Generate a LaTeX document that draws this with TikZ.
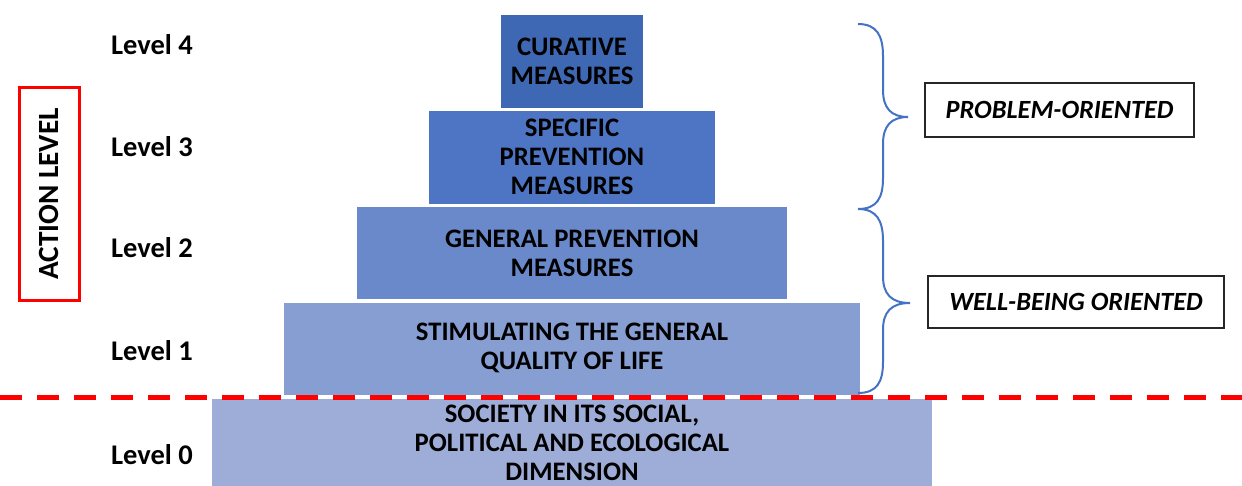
\documentclass[tikz,border=0pt]{standalone}
\usepackage{fontspec}
\setmainfont{Carlito}
\begin{document}
\begin{tikzpicture}[x=1pt,y=-1pt,
  lvl/.style={font=\bfseries\fontsize{26.7}{29}\selectfont, text=black, align=center, inner sep=0pt, anchor=center},
  levellbl/.style={font=\bfseries\fontsize{28.5}{30}\selectfont, anchor=center},
  tagbox/.style={draw=black!85, line width=1.5pt, font=\bfseries\itshape\fontsize{26.3}{30}\selectfont, inner sep=0pt}
]
\definecolor{c4}{RGB}{62,104,179}
\definecolor{c3}{RGB}{78,117,195}
\definecolor{c2}{RGB}{106,137,202}
\definecolor{c1}{RGB}{135,158,211}
\definecolor{c0}{RGB}{158,173,216}
\definecolor{bracec}{RGB}{68,114,196}
\definecolor{redl}{RGB}{255,0,0}
\useasboundingbox (0,0) rectangle (1242,486);
\fill[white] (0,0) rectangle (1242,486);

% pyramid boxes
\fill[c4] (501,15) rectangle (643,108);
\fill[c3] (429,111) rectangle (715,204);
\fill[c2] (357,207) rectangle (787,299);
\fill[c1] (284,303) rectangle (860,395);
\fill[c0] (212,399) rectangle (932,486);

\node[lvl] (cur) at (572,61.5) {CURATIVE\\MEASURES};
\node[lvl] (spe) at (572,157) {SPECIFIC\\PREVENTION\\MEASURES};
\node[lvl] (gen) at (572,253) {GENERAL PREVENTION\\MEASURES};
\node[lvl] (sti) at (572,348) {STIMULATING THE GENERAL\\QUALITY OF LIFE};
\node[lvl] (soc) at (572,443) {SOCIETY IN ITS SOCIAL,\\POLITICAL AND ECOLOGICAL\\DIMENSION};

% red dashed line
\draw[redl, line width=5pt, dash pattern=on 22pt off 15pt] (0,397) -- (1242,397);

% level labels
\node[levellbl] (l4) at (152,45) {Level 4};
\node[levellbl] (l3) at (152,147) {Level 3};
\node[levellbl] (l2) at (152,248) {Level 2};
\node[levellbl] (l1) at (152,351) {Level 1};
\node[levellbl] (l0) at (152,455) {Level 0};

% action level box
\draw[redl, line width=3.5pt] (19.5,87.5) rectangle (79.5,300.5);
\node[font=\bfseries\fontsize{29.3}{32}\selectfont, rotate=90, inner sep=0pt] (act) at (49,194) {ACTION LEVEL};

% braces
\draw[bracec, line width=2pt] (858,24) .. controls (877,24) and (883,36) .. (883,56) -- (883,90)
  .. controls (883,108) and (891,117) .. (908,117)
  .. controls (891,117) and (883,126) .. (883,144) -- (883,178)
  .. controls (883,198) and (877,209) .. (858,209);
\draw[bracec, line width=2pt] (858,209) .. controls (877,209) and (883,221) .. (883,241) -- (883,276)
  .. controls (883,294) and (891,303) .. (910,303)
  .. controls (891,303) and (883,312) .. (883,330) -- (883,362)
  .. controls (883,382) and (877,393) .. (858,393);

% tag boxes
\node[tagbox, minimum width=269pt, minimum height=54pt] (prob) at (1059.5,110) {PROBLEM-ORIENTED};
\node[tagbox, minimum width=296pt, minimum height=52pt] (well) at (1076,302) {WELL-BEING ORIENTED};
\end{tikzpicture}
\end{document}
